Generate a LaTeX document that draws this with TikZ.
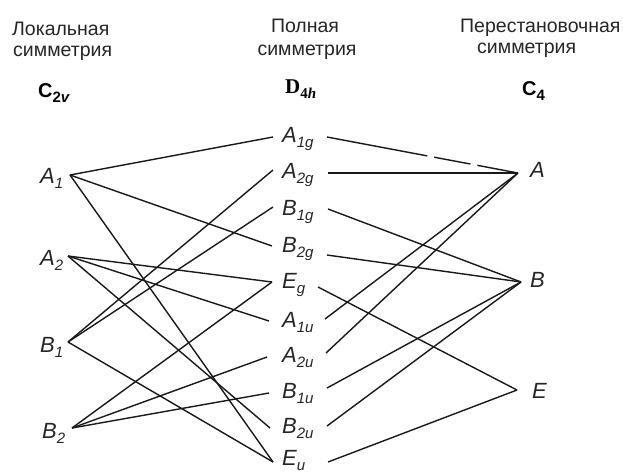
\documentclass[tikz,border=0pt]{standalone}
\usepackage{fontspec}
\setmainfont{Liberation Sans}
\newfontfamily\serifbf{Liberation Serif}
\newcommand\sbx[1]{\raisebox{-5pt}{\fontsize{15}{15}\selectfont #1}}
\begin{document}
\begin{tikzpicture}[x=1pt,y=-1pt,
  conn/.style={line width=1.4pt, black!90},
  hdr/.style={inner sep=0pt, font=\fontsize{19.5}{23}\selectfont, black!85},
  grp/.style={inner sep=0pt, anchor=base west},
  lab/.style={inner sep=0pt, anchor=base west, font=\fontsize{22}{22}\selectfont\itshape, black!85}]
\useasboundingbox (0,0) rectangle (623,472);
% headers
\node[hdr,anchor=base west] (h1a) at (12,35) {Локальная};
\node[hdr,anchor=base west] (h1b) at (13,56) {симметрия};
\node[hdr,anchor=base] (h2a) at (305,32) {Полная};
\node[hdr,anchor=base] (h2b) at (307,55) {симметрия};
\node[hdr,anchor=base west] (h3a) at (460,32) {Перестановочная};
\node[hdr,anchor=base west] (h3b) at (477,53) {симметрия};
% groups
\node[grp] (g1) at (38,97) {\fontsize{20}{20}\selectfont\bfseries C\sbx{2\itshape v}};
\node[grp] (g2) at (285,93) {\fontsize{21}{21}\serifbf\bfseries D\sbx{4\itshape h}};
\node[grp] (g3) at (522,95) {\fontsize{20}{20}\selectfont\bfseries C\sbx{4}};
% left
\node[lab] (lA1) at (40,183) {A\sbx{1}};
\node[lab] (lA2) at (40,265) {A\sbx{2}};
\node[lab] (lB1) at (40,352) {B\sbx{1}};
\node[lab] (lB2) at (42,438) {B\sbx{2}};
\coordinate (A1) at (70,175);
\coordinate (A2) at (68,256);
\coordinate (B1) at (68,342);
\coordinate (B2) at (72,428);
% middle
\node[lab] (m1) at (282,142) {A\sbx{1g}};
\node[lab] (m2) at (282,178) {A\sbx{2g}};
\node[lab] (m3) at (282,215) {B\sbx{1g}};
\node[lab] (m4) at (282,252) {B\sbx{2g}};
\node[lab] (m5) at (282,288) {E\sbx{g}};
\node[lab] (m6) at (282,327) {A\sbx{1u}};
\node[lab] (m7) at (282,362) {A\sbx{2u}};
\node[lab] (m8) at (282,398) {B\sbx{1u}};
\node[lab] (m9) at (282,433) {B\sbx{2u}};
\node[lab] (m10) at (282,465) {E\sbx{u}};
\coordinate (m1l) at (273,137);  \coordinate (m1r) at (327,137);
\coordinate (m2l) at (273,170);  \coordinate (m2r) at (328,173);
\coordinate (m3l) at (273,207);  \coordinate (m3r) at (328,209);
\coordinate (m4l) at (272,246);  \coordinate (m4r) at (327,255);
\coordinate (m5l) at (272,282);  \coordinate (m5r) at (318,287);
\coordinate (m6l) at (269,321);  \coordinate (m6r) at (325,319);
\coordinate (m7l) at (267,357);  \coordinate (m7r) at (326,353);
\coordinate (m8l) at (269,393);  \coordinate (m8r) at (327,388);
\coordinate (m9l) at (270,428);  \coordinate (m9r) at (327,426);
\coordinate (m10l) at (273,462); \coordinate (m10r) at (328,462);
% right
\node[lab] (lA) at (530,177) {A};
\node[lab] (lB) at (530,287) {B};
\node[lab] (lE) at (532,398) {E};
\coordinate (A) at (518,173);
\coordinate (B) at (521,282);
\coordinate (E) at (517,390);
% left connectors
\draw[conn] (A1) -- (m1l);
\draw[conn] (A1) -- (m4l);
\draw[conn] (A1) -- (m10l);
\draw[conn] (A2) -- (m5l);
\draw[conn] (A2) -- (m6l);
\draw[conn] (A2) -- (m9l);
\draw[conn] (B1) -- (m2l);
\draw[conn] (B1) -- (m3l);
\draw[conn] (B1) -- (m10l);
\draw[conn] (B2) -- (m5l);
\draw[conn] (B2) -- (m7l);
\draw[conn] (B2) -- (m8l);
% right connectors
\draw[conn, dash pattern=on 102pt off 7pt on 37pt off 7pt on 80pt] (m1r) -- (A);
\draw[conn] (m2r) -- (A);
\draw[conn] (m6r) -- (A);
\draw[conn] (m7r) -- (A);
\draw[conn] (m3r) -- (B);
\draw[conn] (m4r) -- (B);
\draw[conn] (m8r) -- (B);
\draw[conn] (m9r) -- (B);
\draw[conn] (m5r) -- (E);
\draw[conn] (m10r) -- (E);
\end{tikzpicture}
\end{document}
